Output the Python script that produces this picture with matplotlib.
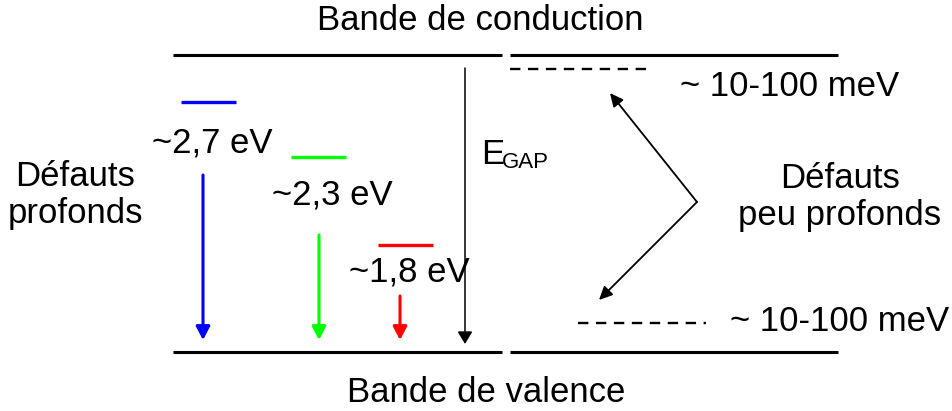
import matplotlib.pyplot as plt
from matplotlib.patches import FancyArrowPatch

plt.rcParams["font.family"] = ["Liberation Sans", "DejaVu Sans"]

# energy levels (pixel coordinates of the original figure)
band_y = [55, 352]
band_segments = [(173, 502), (510, 838)]
deep_colors = ["#0000ff", "#00ff00", "#ff0000"]
deep_level_y = [102, 157, 245]
deep_level_x = [(181, 236), (291, 346), (378, 433)]
deep_arrow_x = [203, 319, 400]
deep_arrow_top = [175, 235, 296]
deep_labels = ["~2,7 eV", "~2,3 eV", "~1,8 eV"]
deep_label_xy = [(212, 143), (332, 195), (409, 272)]
shallow_y = [69, 323]
shallow_x = [(510, 652), (578, 706)]
shallow_labels = ["~ 10-100 meV", "~ 10-100 meV"]
shallow_label_xy = [(680, 87), (730, 321)]

fig = plt.figure(figsize=(9.52, 4.11), dpi=100)
ax = fig.add_axes([0, 0, 1, 1])
ax.set_xlim(0, 952)
ax.set_ylim(411, 0)
ax.axis("off")

fs = 25

# conduction and valence bands
for y in band_y:
    for x0, x1 in band_segments:
        ax.plot([x0, x1], [y, y], color="black", lw=2.2, solid_capstyle="butt")

ax.text(480, 21, "Bande de conduction", ha="center", va="center", fontsize=fs)
ax.text(486, 392, "Bande de valence", ha="center", va="center", fontsize=fs)

# deep defects
for c, y, (x0, x1), ax_x, top, lab, (lx, ly) in zip(
    deep_colors, deep_level_y, deep_level_x, deep_arrow_x, deep_arrow_top,
    deep_labels, deep_label_xy,
):
    ax.plot([x0, x1], [y, y], color=c, lw=2.4, solid_capstyle="butt")
    ax.add_patch(FancyArrowPatch((ax_x, top), (ax_x, 340), color=c, lw=2.2,
                                 arrowstyle="-|>,head_length=8,head_width=4.2",
                                 shrinkA=0, shrinkB=0))
    ax.text(lx, ly, lab, ha="center", va="center", fontsize=fs)

# band gap arrow
ax.add_patch(FancyArrowPatch((465, 68), (465, 344), color="black", lw=1.1,
                             arrowstyle="-|>,head_length=7.5,head_width=4.5",
                             shrinkA=0, shrinkB=0))
ax.text(481, 154, "E", ha="left", va="center", fontsize=fs)
ax.text(502, 162, "GAP", ha="left", va="center", fontsize=16)

ax.text(75, 195, "Défauts\nprofonds", ha="center", va="center",
        fontsize=fs, linespacing=1.15)

# shallow defects
for y, (x0, x1), lab, (lx, ly) in zip(shallow_y, shallow_x, shallow_labels,
                                      shallow_label_xy):
    ax.plot([x0, x1], [y, y], color="black", lw=1.7, dashes=(4.4, 3.2))
    ax.text(lx, ly, lab, ha="left", va="center", fontsize=fs)

vertex = (697, 202)
for tip in [(610, 93), (599, 300)]:
    ax.add_patch(FancyArrowPatch(vertex, tip, color="black", lw=1.3,
                                 arrowstyle="-|>,head_length=8,head_width=3.8",
                                 shrinkA=0, shrinkB=0))

ax.text(840, 197, "Défauts\npeu profonds", ha="center", va="center",
        fontsize=fs, linespacing=1.15)

fig.savefig("out.png", dpi=100)
